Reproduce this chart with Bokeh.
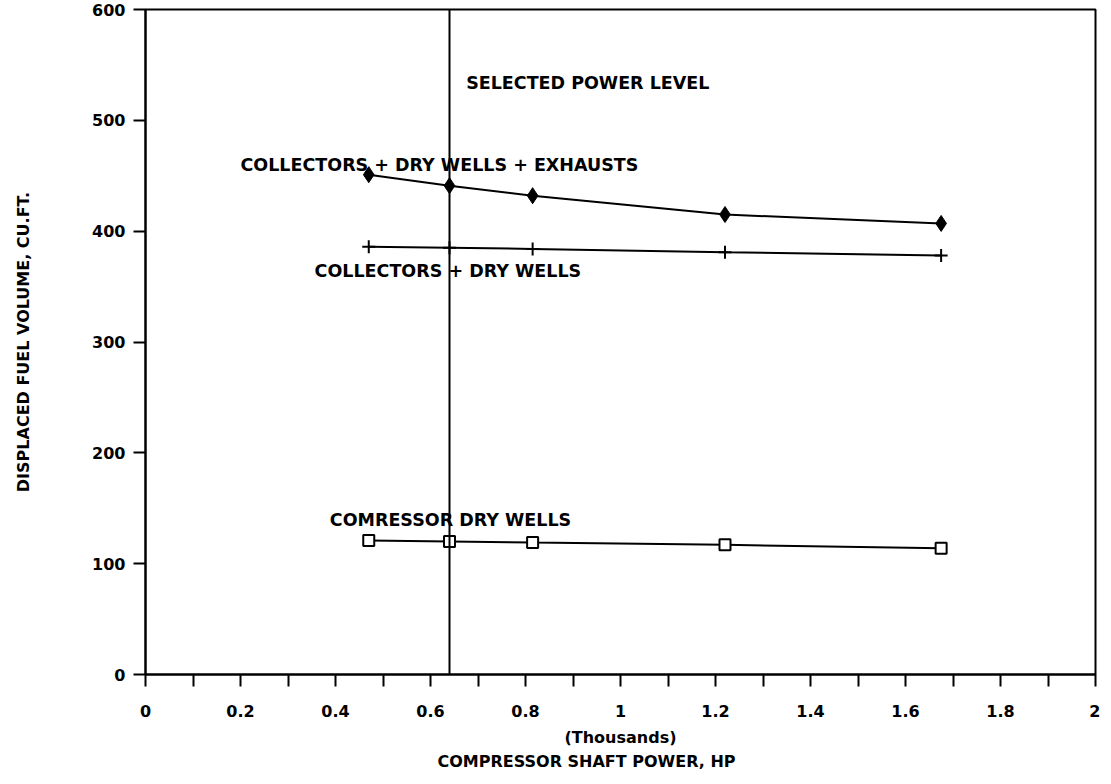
from bokeh.plotting import figure
from bokeh.models import FixedTicker, NumeralTickFormatter, Span, Title, ColumnDataSource
from bokeh.core.properties import value
from bokeh.embed import file_html
from bokeh.resources import INLINE

# ---- data ----
power_thousands = [0.47, 0.64, 0.815, 1.22, 1.675]
exhausts = [451, 441, 432, 415, 407]          # collectors + dry wells + exhausts
collectors = [386, 385, 384, 381, 378]        # collectors + dry wells
compressor = [121, 120, 119, 117, 114]        # compressor dry wells
selected_power = 0.64

x_ticks = [0, 0.2, 0.4, 0.6, 0.8, 1.0, 1.2, 1.4, 1.6, 1.8, 2.0]
x_minor = [0.1, 0.3, 0.5, 0.7, 0.9, 1.1, 1.3, 1.5, 1.7, 1.9]
y_ticks = [0, 100, 200, 300, 400, 500, 600]

note_text = ["SELECTED POWER LEVEL", "COLLECTORS + DRY WELLS + EXHAUSTS",
             "COLLECTORS + DRY WELLS", "COMRESSOR DRY WELLS"]
note_x = [0.675, 0.2, 0.356, 0.388]
note_y = [534, 460, 364, 139]

x_title_1 = "(Thousands)"
x_title_2 = "COMPRESSOR SHAFT POWER, HP"
y_title = "DISPLACED FUEL VOLUME, CU.FT."

FONT = "DejaVu Sans"

p = figure(width=1100, height=770, x_range=(0, 2), y_range=(0, 600),
           output_backend="svg", toolbar_location=None, title_location=None,
           min_border_left=145, min_border_right=5, min_border_top=9, min_border_bottom=96)

p.background_fill_color = "white"
p.border_fill_color = "white"
p.outline_line_color = "black"
p.outline_line_width = 2
p.xgrid.visible = False
p.ygrid.visible = False

# axes
xa = p.xaxis[0]
xa.ticker = FixedTicker(ticks=x_ticks, minor_ticks=x_minor)
xa.formatter = NumeralTickFormatter(format="0.[0]")
ya = p.yaxis[0]
ya.ticker = FixedTicker(ticks=y_ticks)

for ax in (xa, ya):
    ax.axis_line_color = "black"
    ax.axis_line_width = 2
    ax.major_tick_line_color = "black"
    ax.major_tick_line_width = 2
    ax.major_tick_in = 0
    ax.major_tick_out = 12
    ax.minor_tick_line_color = "black"
    ax.minor_tick_line_width = 2
    ax.minor_tick_in = 0
    ax.minor_tick_out = 12
    ax.major_label_text_font = FONT
    ax.major_label_text_font_style = "bold"
    ax.major_label_text_font_size = "16px"
    ax.major_label_text_color = "black"
    ax.axis_label_text_font = FONT
    ax.axis_label_text_font_style = "bold"
    ax.axis_label_text_font_size = "16px"
    ax.axis_label_text_color = "black"

ya.minor_tick_out = 0
xa.major_label_standoff = 18
ya.major_label_standoff = 8
xa.axis_label = x_title_1
xa.axis_label_standoff = 8
ya.axis_label = y_title
ya.axis_label_standoff = 56

p.add_layout(Title(text=x_title_2, align="left", offset=292,
                   text_font=FONT, text_font_style="bold", text_font_size="16px",
                   text_color="black", standoff=0), "below")

# selected power level vertical line
p.add_layout(Span(location=selected_power, dimension="height",
                  line_color="black", line_width=2))

# series
p.line(power_thousands, exhausts, line_color="black", line_width=2)
p.scatter(power_thousands, exhausts, marker="diamond", size=16,
          fill_color="black", line_color="black")

p.line(power_thousands, collectors, line_color="black", line_width=2)
p.scatter(power_thousands, collectors, marker="cross", size=13,
          line_color="black", line_width=2)

p.line(power_thousands, compressor, line_color="black", line_width=2)
p.scatter(power_thousands, compressor, marker="square", size=11,
          fill_color="white", line_color="black", line_width=2)

# annotations
src = ColumnDataSource(dict(x=note_x, y=note_y, t=note_text))
p.text(x="x", y="y", text="t", source=src, text_font=value(FONT),
       text_font_style="bold", text_font_size="17.5px", text_color="black",
       text_align="left", text_baseline="middle")

open("out.html", "w").write(file_html(p, INLINE))
